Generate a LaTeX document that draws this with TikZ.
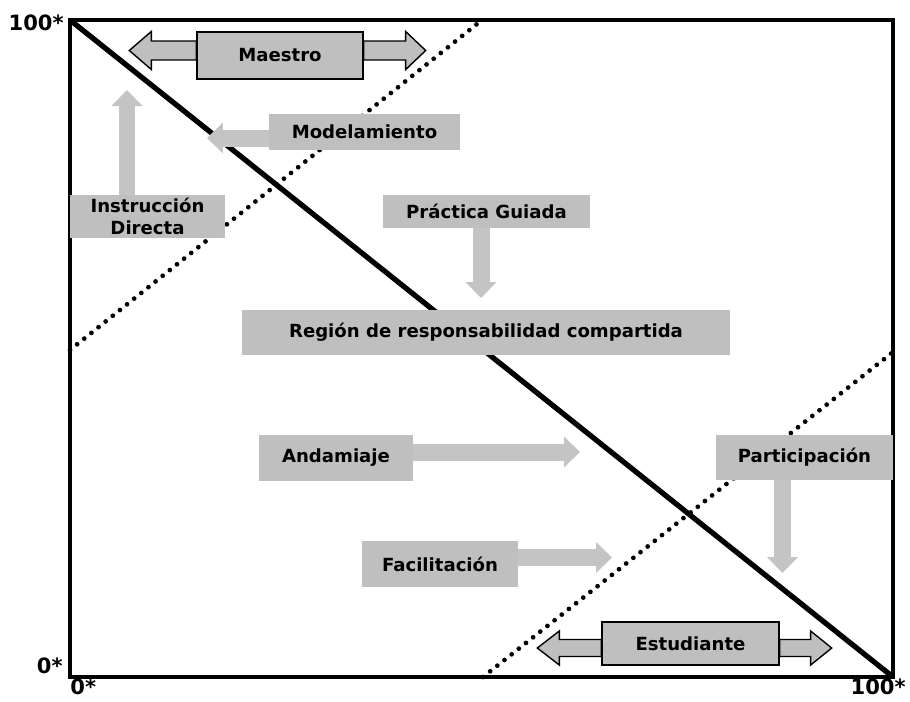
\documentclass[tikz,border=0pt]{standalone}
\usepackage{fontspec}
\setmainfont{DejaVu Sans}
\usetikzlibrary{arrows.meta}
\definecolor{boxgray}{RGB}{191,191,191}
\definecolor{arrowgray}{RGB}{196,196,196}

\begin{document}
\begin{tikzpicture}[x=0.02cm, y=-0.02cm,
  box/.style={fill=boxgray, inner sep=0pt, font=\fontsize{10.3}{12.5}\selectfont\bfseries, align=center},
  rolebox/.style={box, draw=black, line width=0.8pt},
  flow/.style={draw=arrowgray, line width=0.34cm, -{Triangle[length=0.32cm, width=0.62cm, line width=0pt]}},
  roleflow/.style={fill=boxgray, draw=black, line width=0.8pt, line join=miter},
  corner/.style={font=\fontsize{12}{14}\selectfont\bfseries, inner sep=0pt},
  dots/.style={line width=2.7pt, line cap=round, dash pattern=on 0pt off 5.2pt}]
\useasboundingbox (0,0) rectangle (910,701);

% frame of the graph
\coordinate (tl) at (70,20);
\coordinate (br) at (893,677);
\draw[line width=1.8pt] (tl) rectangle (br);
\node[corner, anchor=east] (ymax) at (64,23) {100*};
\node[corner, anchor=east] (ymin) at (63,666) {0*};
\node[corner, anchor=west] (xmin) at (70,687) {0*};
\node[corner, anchor=east] (xmax) at (906,687) {100*};

% role boxes
\node[rolebox, minimum width=3.32cm, minimum height=0.94cm] (maestro) at (280,55.5) {Maestro};
\node[rolebox, minimum width=3.54cm, minimum height=0.86cm] (estud) at (690.5,643.5) {Estudiante};

\draw[roleflow] (maestro.west) ++(0,4.5) -- ++(-45,0) -- ++(0,9.5) -- ++(-22,-19) -- ++(22,-19) -- ++(0,9.5) -- ++(45,0) -- cycle;
\draw[roleflow] (maestro.east) ++(0,4.5) -- ++(42,0) -- ++(0,9.5) -- ++(20,-19) -- ++(-20,-19) -- ++(0,9.5) -- ++(-42,0) -- cycle;
\draw[roleflow] (estud.west) ++(0,13) -- ++(-42,0) -- ++(0,8.5) -- ++(-22,-17) -- ++(22,-17) -- ++(0,8.5) -- ++(42,0) -- cycle;
\draw[roleflow] (estud.east) ++(0,13) -- ++(31,0) -- ++(0,8.5) -- ++(21,-17) -- ++(-21,-17) -- ++(0,8.5) -- ++(-31,0) -- cycle;
\node[rolebox, minimum width=3.32cm, minimum height=0.94cm] at (maestro) {Maestro};
\node[rolebox, minimum width=3.54cm, minimum height=0.86cm] at (estud) {Estudiante};

% responsibility line and limits
\draw[line width=3pt] (tl) -- (br);
\coordinate (lmid) at (70,350);
\coordinate (tmid) at (482,20);
\coordinate (bmid) at (483,677);
\coordinate (rmid) at (893,352);
\draw[dots] (lmid) -- (tmid);
\draw[dots] (bmid) -- (rmid);

% stages
\node[box, minimum width=3.1cm, minimum height=0.86cm] (instr) at (147.5,216.5) {Instrucción\\Directa};
\node[box, minimum width=3.82cm, minimum height=0.72cm] (model) at (364.5,132) {Modelamiento};
\node[box, minimum width=4.14cm, minimum height=0.66cm] (practica) at (486.5,211.5) {Práctica Guiada};
\node[box, minimum width=9.76cm, minimum height=0.9cm] (region) at (486,332.5) {Región de responsabilidad compartida};
\node[box, minimum width=3.08cm, minimum height=0.92cm] (andam) at (336,458) {Andamiaje};
\node[box, minimum width=3.54cm, minimum height=0.9cm] (partic) at (804.5,457.5) {Participación};
\node[box, minimum width=3.12cm, minimum height=0.92cm] (facil) at (440,564) {Facilitación};

\coordinate (instrtip) at (127,90);
\coordinate (modeltip) at (207,138);
\coordinate (practtip) at (481,298);
\coordinate (andamtip) at (580,452);
\coordinate (partictip) at (782.5,573);
\coordinate (faciltip) at (612,557.5);

\draw[flow] (instr.north -| instrtip) -- (instrtip);
\draw[flow] (modeltip -| model.west) -- (modeltip);
\draw[flow] (practica.south -| practtip) -- (practtip);
\draw[flow] (andamtip -| andam.east) -- (andamtip);
\draw[flow] (partic.south -| partictip) -- (partictip);
\draw[flow] (faciltip -| facil.east) -- (faciltip);
\end{tikzpicture}
\end{document}
